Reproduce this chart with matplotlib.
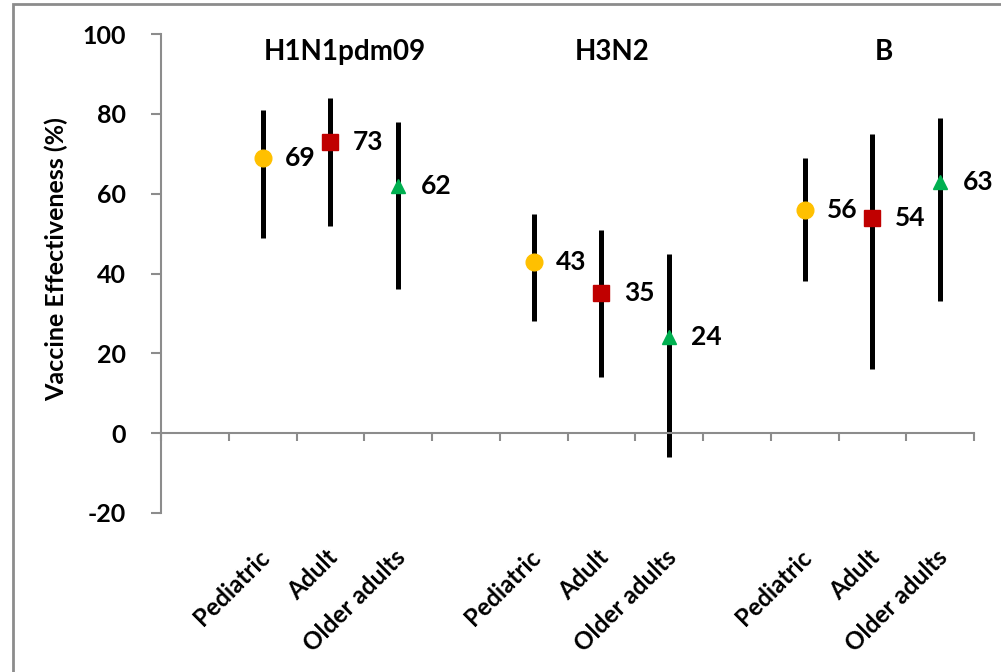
import matplotlib.pyplot as plt
from matplotlib.patches import Rectangle
from matplotlib.transforms import blended_transform_factory

plt.rcParams['font.family'] = ['Lato', 'DejaVu Sans']

groups = ['H1N1pdm09', 'H3N2', 'B']
ages = ['Pediatric', 'Adult', 'Older adults']

# point estimate and 95% CI per group, one list per age band
ped_ve = [69, 43, 56]
ped_lo = [49, 28, 38]
ped_hi = [81, 55, 69]
adult_ve = [73, 35, 54]
adult_lo = [52, 14, 16]
adult_hi = [84, 51, 75]
older_ve = [62, 24, 63]
older_lo = [36, -6, 33]
older_hi = [78, 45, 79]

series = [(ped_ve, ped_lo, ped_hi, 'o', '#FFC000', 12),
          (adult_ve, adult_lo, adult_hi, 's', '#C00000', 11),
          (older_ve, older_lo, older_hi, '^', '#00B050', 10)]

fig = plt.figure(figsize=(10.01, 6.72), dpi=100)
ax = fig.add_axes([161/1001, 1-513/672, 813/1001, 479/672])

for a, (ve, lo, hi, mk, col, ms) in enumerate(series):
    for g in range(len(groups)):
        x = g*4 + 1 + a
        ax.vlines(x, lo[g], hi[g], colors='black', lw=3.6, zorder=2)
        ax.plot(x, ve[g], marker=mk, color=col, ms=ms, mec=col, zorder=3)
        ax.text(x + 0.33, ve[g], str(ve[g]), fontsize=19, fontweight='bold',
                ha='left', va='center')

ax.set_xlim(-0.5, 11.5)
ax.set_ylim(-20, 100)
ax.set_yticks(range(-20, 101, 20))
ax.set_yticklabels([str(v) for v in range(-20, 101, 20)], fontsize=18, fontweight='bold')

gray = '#8c8c8c'
for s in ['top', 'right']:
    ax.spines[s].set_visible(False)
ax.spines['left'].set_color(gray)
ax.spines['left'].set_linewidth(1.5)
ax.spines['bottom'].set_position(('data', 0))
ax.spines['bottom'].set_color(gray)
ax.spines['bottom'].set_linewidth(1.5)
ax.tick_params(axis='y', direction='out', length=7, width=1.5, color=gray, pad=18)
ax.set_xticks([i - 0.5 for i in range(13)])
ax.set_xticklabels([])
ax.tick_params(axis='x', direction='out', length=6, width=1.5, color=gray)

ax.set_ylabel('Vaccine Effectiveness (%)', fontsize=18, fontweight='bold')
ax.yaxis.set_label_coords(-0.114, 0.53)

trans = blended_transform_factory(ax.transData, ax.transAxes)
for g in range(len(groups)):
    for a, name in enumerate(ages):
        ax.text(g*4 + 1 + a + 0.05, -0.085, name, transform=trans, rotation=45,
                rotation_mode='anchor', ha='right', va='center',
                fontsize=17.5, fontweight='bold')

title_x = [2.22, 6.16, 10.17]
for g, name in enumerate(groups):
    ax.text(title_x[g], 95.5, name, fontsize=20, fontweight='bold',
            ha='center', va='center')

fig.patches.append(Rectangle((13/1001, -0.1), 1.2, 1 - 4/672 + 0.1,
                             transform=fig.transFigure, fill=False,
                             ec=gray, lw=2))

plt.savefig('out.png', dpi=100)
plt.close()
